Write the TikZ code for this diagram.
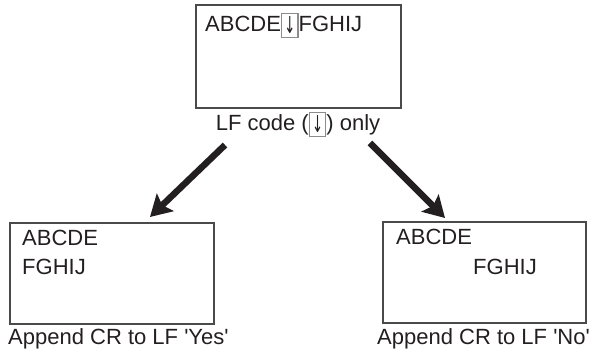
\documentclass[tikz,border=0pt]{standalone}
\usepackage{fontspec}
\setmainfont{Liberation Sans}
\newfontfamily\arrowfont{DejaVu Sans}
\usepackage{xcolor}
\usepackage{graphicx}
\usepackage{tikz}
\usetikzlibrary{arrows.meta,calc}
\definecolor{ink}{HTML}{231F20}
\definecolor{frame}{HTML}{4A4A4A}
\definecolor{markgray}{HTML}{8C8C8C}
\newcommand{\lfmark}{{\setlength{\fboxsep}{0pt}\setlength{\fboxrule}{1.3pt}%
  \raisebox{-5pt}{\fcolorbox{markgray}{white}{\makebox[15pt]{\rule{0pt}{23pt}%
  \raisebox{3.5pt}{\arrowfont\resizebox{11pt}{17pt}{↓}}}}}}}
\tikzset{
    screen/.style={draw=frame,line width=2pt,anchor=north west,inner sep=0pt,
      minimum width=204pt,minimum height=101pt},
    screentext/.style={anchor=base west,inner sep=0pt,text=ink,
      font=\fontsize{22}{26}\selectfont},
    caption/.style={inner sep=0pt,text=ink,font=\fontsize{22}{26}\selectfont},
    bigarrow/.style={-{Stealth[length=21pt,width=24pt,inset=4pt]},draw=ink,
      line width=6.5pt}
}
\begin{document}
\begin{tikzpicture}[x=1pt,y=-1pt]
  \useasboundingbox (0,0) rectangle (590,358);

  \node[screen,minimum width=205pt,minimum height=103pt] (src) at (195,4) {};
  \node[screentext] (srcline) at (205,32) {ABCDE\lfmark FGHIJ};
  \node[caption,anchor=base] (lfnote) at (298,131) {LF code (\lfmark) only};

  \node[screen] (yes) at (9,222) {};
  \node[screentext] (yesa) at (22,246) {ABCDE};
  \node[screentext] (yesb) at (22,275) {FGHIJ};
  \node[caption,anchor=base west] (yescap) at (8,345) {Append CR to LF \textquotesingle Yes\textquotesingle};

  \node[screen,minimum width=203pt] (no) at (382,221) {};
  \node[screentext] (noa) at (396,245) {ABCDE};
  \node[screentext] (nob) at (473,275) {FGHIJ};
  \node[caption,anchor=base west] (nocap) at (377,345) {Append CR to LF \textquotesingle No\textquotesingle};

  \coordinate (yesfrom) at (225,145);
  \coordinate (yesto) at (150,217);
  \coordinate (nofrom) at (370,143);
  \coordinate (noto) at (445,218);
  \draw[bigarrow] (yesfrom) -- (yesto);
  \draw[bigarrow] (nofrom) -- (noto);
\end{tikzpicture}
\end{document}
